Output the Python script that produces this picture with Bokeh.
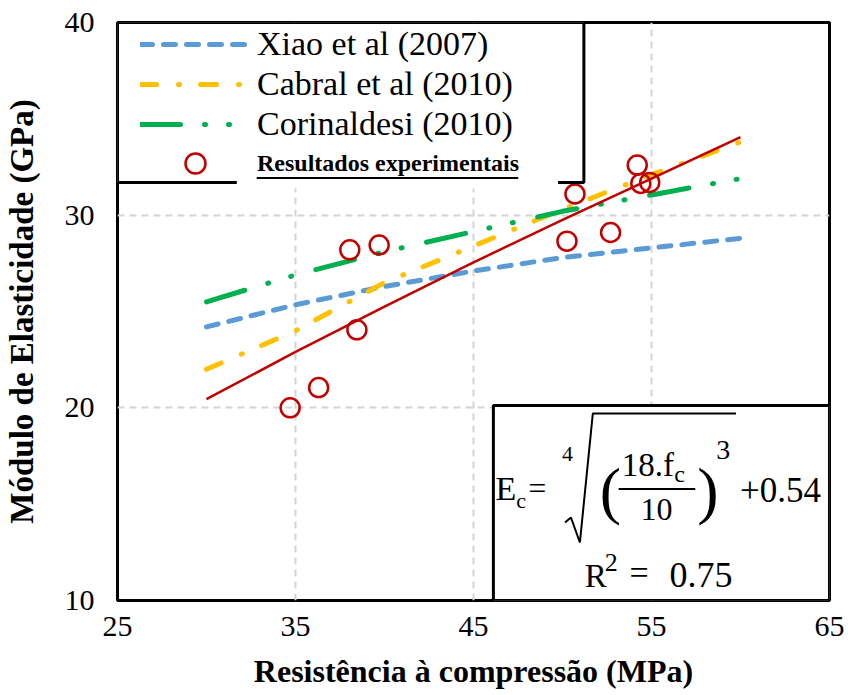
from bokeh.plotting import figure
from bokeh.models import (Legend, LegendItem, BoxAnnotation, Label, FixedTicker, Range1d)
from bokeh.embed import file_html
from bokeh.resources import INLINE

# ---------------- data ----------------
fc_model = [30, 35, 40, 45, 50, 55, 60]
xiao_2007 = [24.2, 25.35, 26.3, 27.1, 27.8, 28.3, 28.8]
cabral_2010 = [22.0, 24.0, 26.5, 28.4, 30.3, 32.1, 33.8]
corinaldesi_2010 = [25.5, 26.9, 28.1, 29.15, 30.2, 31.05, 31.9]
ajuste = [20.45, 22.9, 25.25, 27.55, 29.75, 31.9, 34.05]

fc_exp = [34.7, 36.3, 38.05, 38.45, 39.7, 50.25, 50.7, 52.7, 54.2, 54.4, 54.9]
ec_exp = [20.0, 21.05, 28.2, 24.05, 28.45, 28.65, 31.1, 29.1, 32.6, 31.65, 31.7]

x_ticks = [25, 35, 45, 55, 65]
y_ticks = [10, 20, 30, 40]

series_names = ["Xiao et al (2007)", "Cabral et al (2010)", "Corinaldesi (2010)"]
exp_name = "Resultados experimentais"
x_title = "Resistência à compressão (MPa)"
y_title = "Módulo de Elasticidade (GPa)"

# ---------------- layout helpers (canvas px -> data) ----------------
FL, FR, FT, FB = 113, 829, 22, 600
W, H = 848, 695


def cx(px):
    return 25 + (px - FL) * 40.0 / (FR - FL)


def cy(py):
    return 40 - (py - FT) * 30.0 / (FB - FT)


SERIF = "Liberation Serif"

p = figure(width=W, height=H, x_range=Range1d(25, 65), y_range=Range1d(10, 40),
           output_backend="svg", toolbar_location=None, title=None,
           min_border_left=FL, min_border_right=W - FR,
           min_border_top=FT, min_border_bottom=H - FB)
p.background_fill_color = "white"
p.border_fill_color = "white"
p.outline_line_color = "black"
p.outline_line_width = 3
p.outline_line_alpha = 1

# axes
for ax in (p.xaxis[0], p.yaxis[0]):
    ax.axis_line_color = None
    ax.major_tick_line_color = None
    ax.minor_tick_line_color = None
    ax.major_label_text_font = SERIF
    ax.major_label_text_font_size = "30px"
    ax.major_label_text_color = "black"
    ax.axis_label_text_font = SERIF
    ax.axis_label_text_font_style = "bold"
    ax.axis_label_text_color = "black"

p.xaxis.ticker = FixedTicker(ticks=x_ticks)
p.yaxis.ticker = FixedTicker(ticks=y_ticks)
p.xaxis.major_label_standoff = 10
p.yaxis.major_label_standoff = 17
p.xaxis.axis_label = x_title
p.yaxis.axis_label = y_title
p.xaxis.axis_label_text_font_size = "32px"
p.yaxis.axis_label_text_font_size = "33px"
p.xaxis.axis_label_standoff = 14
p.yaxis.axis_label_standoff = 22

p.xgrid.ticker = FixedTicker(ticks=x_ticks)
p.ygrid.ticker = FixedTicker(ticks=y_ticks)
for g in (p.xgrid[0], p.ygrid[0]):
    g.grid_line_color = "#D4D4D4"
    g.grid_line_width = 2
    g.grid_line_dash = "7 5"

# series
r_xiao = p.line(fc_model, xiao_2007, line_color="#5B9BD5", line_width=5,
                line_dash="12 11", line_cap="round")
r_cab = p.line(fc_model, cabral_2010, line_color="#FFC000", line_width=5,
               line_dash="16 22 1 21", line_cap="round")
r_cor = p.line(fc_model, corinaldesi_2010, line_color="#00B050", line_width=5,
               line_dash="40 24 1 23 1 25", line_cap="round")
r_fit = p.line(fc_model, ajuste, line_color="#C00000", line_width=2.5)
r_exp = p.scatter(fc_exp, ec_exp, marker="circle", size=19, fill_color=None,
                  line_color="#C00000", line_width=2.5)


def box(l, r, t, b, fill, line=None, lw=0):
    return BoxAnnotation(left=cx(l), right=cx(r), top=cy(t), bottom=cy(b),
                         fill_color=fill, fill_alpha=1,
                         line_color=line, line_alpha=1, line_width=lw)


# legend box
p.add_layout(box(FL, 582, FT, 182, "white", "black", 3))
p.add_layout(box(233, 556, 170, 188, "white"))
p.add_layout(box(253, 516, 176.5, 178.5, "black"))

leg1 = Legend(items=[LegendItem(label=series_names[0], renderers=[r_xiao]),
                     LegendItem(label=series_names[1], renderers=[r_cab]),
                     LegendItem(label=series_names[2], renderers=[r_cor])],
              location=(136 - FL, FB - 144), orientation="vertical",
              glyph_width=110, glyph_height=40, label_height=40, label_standoff=7,
              spacing=0, padding=0, margin=0, background_fill_alpha=0,
              border_line_color=None, label_text_font=SERIF,
              label_text_font_size="34px", label_text_color="black")
leg2 = Legend(items=[LegendItem(label=exp_name, renderers=[r_exp])],
              location=(136 - FL, FB - 188), orientation="vertical",
              glyph_width=110, glyph_height=50, label_height=50, label_standoff=7,
              spacing=0, padding=0, margin=0, background_fill_alpha=0,
              border_line_color=None, label_text_font=SERIF,
              label_text_font_size="24px", label_text_font_style="bold",
              label_text_color="black")

# formula box
p.add_layout(box(491, FR, 405, FB, "white", "black", 3))
p.add_layout(box(617, 694, 487.5, 489.5, "black"))

# (text, left px, baseline px, font px)
formula_parts = [
    ("E", 493, 500, 34),
    ("c", 514, 507, 22),
    ("=", 526, 498, 32),
    ("4", 560, 461, 22),
    ("(", 598, 512, 64),
    ("18.f", 620, 476, 33),
    ("c", 673, 482, 24),
    ("10", 639, 520, 32),
    (")", 696, 512, 64),
    ("3", 715, 459, 28),
    ("+0.54", 739, 501, 35),
    ("R", 583, 587, 33),
    ("2", 603, 571, 26),
    ("=", 628, 584, 34),
    ("0.75", 668, 587, 36),
]
for t, px, py, fs in formula_parts:
    p.add_layout(Label(x=cx(px), y=cy(py - 0.34 * fs), text=t, text_font=SERIF,
                       text_font_size=f"{fs}px", text_color="black",
                       text_baseline="middle", text_align="left"))

rad_px = [563, 569, 578, 591, 735]
rad_py = [522, 517, 542, 413, 413]
p.line([cx(v) for v in rad_px], [cy(v) for v in rad_py], line_color="black",
       line_width=2, level="overlay")

p.add_layout(leg1)
p.add_layout(leg2)

open("out.html", "w").write(file_html(p, INLINE))
